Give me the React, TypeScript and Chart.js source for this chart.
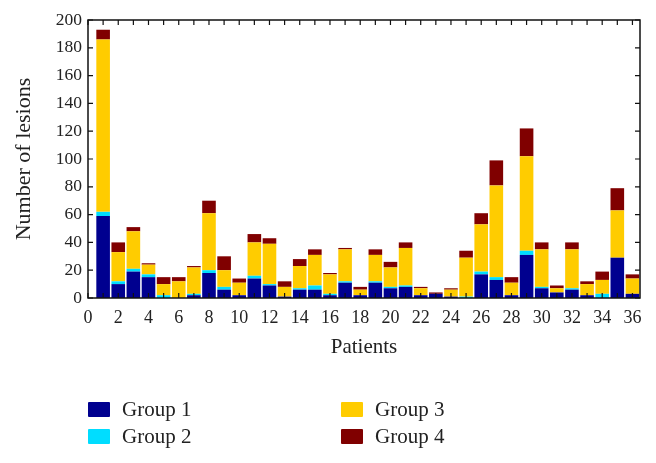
import React, { useEffect, useRef } from "react";
import { Chart, registerables } from "chart.js";

Chart.register(...registerables);

const patients = [1,2,3,4,5,6,7,8,9,10,11,12,13,14,15,16,17,18,19,20,21,22,23,24,25,26,27,28,29,30,31,32,33,34,35,36];
const group1 = [59,10,19,15,0,0,2,18,6,2,14,9,1,6,6,2,11,2,11,7,8,2,3,1,0,17,13,2,31,7,4,6,2,0,29,3];
const group2 = [3,2,2,2,2,0,1,2,2,0,2,1,0,1,3,1,1,0,1,1,1,0,0,0,1,2,2,0,3,1,0,1,0,3,0,0];
const group3 = [124,21,27,7,8,12,19,41,12,9,24,29,7,16,22,14,23,4,19,14,27,5,0,5,28,34,66,9,68,27,3,28,8,10,34,11];
const group4 = [7,7,3,1,5,3,1,9,10,3,6,4,4,5,4,1,1,2,4,4,4,1,1,1,5,8,18,4,20,5,2,5,2,6,16,3];
const xTicks = [0,2,4,6,8,10,12,14,16,18,20,22,24,26,28,30,32,34,36];
const seriesNames = ["Group 1", "Group 2", "Group 3", "Group 4"];
const seriesColors = ["#00008F", "#00DDFF", "#FFCC00", "#800000"];

const FONT = "'Liberation Serif', 'Times New Roman', serif";

const framePlugin = {
  id: "frame",
  afterDraw(chart: any) {
    const { ctx, chartArea: a, scales } = chart;
    const xs = scales.x;
    const ys = scales.y;
    ctx.save();
    ctx.strokeStyle = "#111";
    ctx.lineWidth = 1.5;
    ctx.strokeRect(a.left, a.top, a.right - a.left, a.bottom - a.top);
    ctx.lineWidth = 1.2;
    ctx.beginPath();
    const tl = 5;
    for (let v = Math.ceil(xs.min); v <= xs.max; v++) {
      const px = xs.getPixelForValue(v);
      ctx.moveTo(px, a.top);
      ctx.lineTo(px, a.top + tl);
      ctx.moveTo(px, a.bottom);
      ctx.lineTo(px, a.bottom - tl);
    }
    for (const t of ys.ticks) {
      const py = ys.getPixelForValue(t.value);
      ctx.moveTo(a.left, py);
      ctx.lineTo(a.left + tl, py);
      ctx.moveTo(a.right, py);
      ctx.lineTo(a.right - tl, py);
    }
    ctx.stroke();
    ctx.restore();
  },
};

export default function App() {
  const ref = useRef<HTMLCanvasElement | null>(null);

  useEffect(() => {
    if (!ref.current) return;
    const groups = [group1, group2, group3, group4];
    const chart = new Chart(ref.current, {
      type: "bar",
      data: {
        datasets: groups.map((g, i) => ({
          label: seriesNames[i],
          data: patients.map((p, j) => ({ x: p, y: g[j] })),
          backgroundColor: seriesColors[i],
          borderWidth: 0,
          barPercentage: 0.9,
          categoryPercentage: 1.0,
        })),
      },
      options: {
        animation: false,
        responsive: false,
        maintainAspectRatio: false,
        layout: { padding: { top: 20, right: 16, bottom: 103, left: 0 } },
        plugins: { legend: { display: false }, tooltip: { enabled: false } },
        scales: {
          x: {
            type: "linear",
            stacked: true,
            offset: false,
            min: 0,
            max: 36.5,
            grid: { display: false, drawTicks: false, offset: false },
            border: { display: false },
            afterBuildTicks: (s: any) => {
              s.ticks = xTicks.map((v) => ({ value: v }));
            },
            afterFit: (s: any) => {
              s.height = 62;
            },
            ticks: {
              padding: 9,
              color: "#222",
              font: { family: FONT, size: 18 },
              maxRotation: 0,
              autoSkip: false,
            },
            title: {
              display: true,
              text: "Patients",
              color: "#222",
              font: { family: FONT, size: 21 },
              padding: { top: 0, bottom: 0 },
            },
          },
          y: {
            stacked: true,
            min: 0,
            max: 200,
            grid: { display: false, drawTicks: false },
            border: { display: false },
            afterFit: (s: any) => {
              s.width = 88;
            },
            ticks: {
              stepSize: 20,
              padding: 6,
              color: "#222",
              font: { family: FONT, size: 17.5 },
            },
            title: {
              display: true,
              text: "Number of lesions",
              color: "#222",
              font: { family: FONT, size: 22 },
              padding: { top: 11, bottom: 0 },
            },
          },
        },
      },
      plugins: [framePlugin],
    } as any);
    return () => chart.destroy();
  }, []);

  const legendPos = [
    { x: 88, y: 402 },
    { x: 88, y: 429 },
    { x: 341, y: 402 },
    { x: 341, y: 429 },
  ];

  return (
    <div style={{ position: "absolute", left: 0, top: 0, width: 656, height: 463, background: "#fff" }}>
      <canvas ref={ref} width={656} height={463} style={{ position: "absolute", left: 0, top: 0, width: 656, height: 463 }} />
      {seriesNames.map((n, i) => (
        <div
          key={n}
          style={{
            position: "absolute",
            left: legendPos[i].x,
            top: legendPos[i].y,
            height: 15,
            display: "flex",
            alignItems: "center",
            fontFamily: FONT,
            fontSize: 21,
            color: "#222",
            whiteSpace: "nowrap",
          }}
        >
          <span style={{ display: "inline-block", width: 22, height: 15, background: seriesColors[i], borderRadius: 1 }} />
          <span style={{ marginLeft: 12 }}>{n}</span>
        </div>
      ))}
    </div>
  );
}
